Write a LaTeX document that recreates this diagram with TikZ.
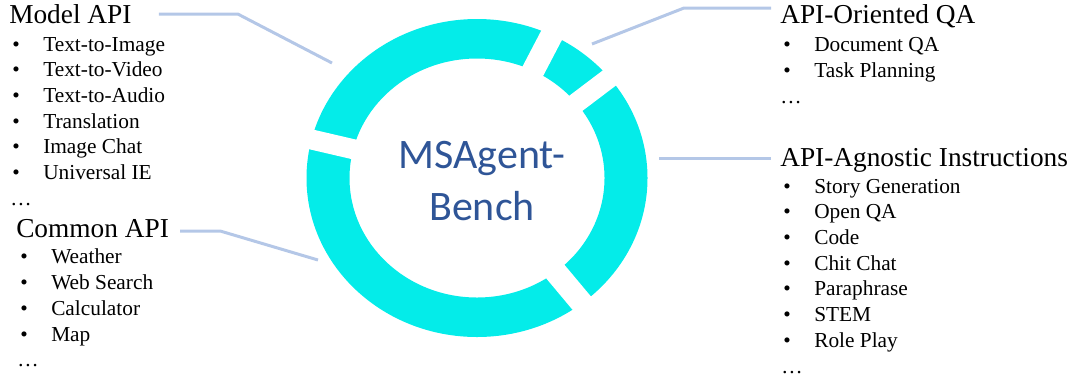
\documentclass[tikz,border=0pt]{standalone}
\usepackage{fontspec}
\setmainfont{Liberation Serif}
\newfontfamily\benchfont{Carlito}
\usetikzlibrary{calc}

\definecolor{ringcyan}{RGB}{4,236,233}
\definecolor{linkblue}{RGB}{180,199,231}
\definecolor{benchblue}{RGB}{47,85,151}

\tikzset{
  head/.style={anchor=base west, inner sep=0pt, font=\rmfamily\fontsize{20.5}{24}\selectfont},
  item/.style={anchor=base west, inner sep=0pt, font=\rmfamily\fontsize{16}{19}\selectfont},
  link/.style={draw=linkblue, line width=2.25pt},
  gap/.style={draw=white, line width=#1},
}
\newcommand{\bul}[1]{\makebox[23.25pt][l]{•}#1}

\begin{document}
\begin{tikzpicture}[x=0.75pt, y=-0.75pt]
  \useasboundingbox (0,0) rectangle (1073,376);
  \def\dy{25.7}
  \coordinate (C) at (477,178);

  % Ring
  \fill[ringcyan, even odd rule] (C) ellipse (170.5 and 159) (C) ellipse (127.5 and 119.5);

  % Gaps between the parts
  \foreach \a/\w in {194/15pt, -64/17pt, -39/15pt, 52/17pt}
    \draw[gap=\w] ($(C)+(\a:105 and 98)$) -- ($(C)+(\a:180 and 168)$);

  % Model API
  \node[head] (model) at (9,23) {Model API};
  \foreach \t [count=\i] in {Text-to-Image, Text-to-Video, Text-to-Audio, Translation, Image Chat, Universal IE}
    \node[item] (model-\i) at (12,{51+\dy*(\i-1)}) {\bul{\t}};
  \node[item] (model-more) at (10,205) {…};

  % Common API
  \node[head] (common) at (16,237) {Common API};
  \foreach \t [count=\i] in {Weather, Web Search, Calculator, Map}
    \node[item] (common-\i) at (20,{263+26.3*(\i-1)}) {\bul{\t}};
  \node[item] (common-more) at (17,366) {…};

  % API-Oriented QA
  \node[head] (oriented) at (780,23) {API-Oriented QA};
  \foreach \t [count=\i] in {Document QA, Task Planning}
    \node[item] (oriented-\i) at (783,{51+26*(\i-1)}) {\bul{\t}};
  \node[item] (oriented-more) at (780,103) {…};

  % API-Agnostic Instructions
  \node[head] (agnostic) at (780,166) {API-Agnostic Instructions};
  \foreach \t [count=\i] in {Story Generation, Open QA, Code, Chit Chat, Paraphrase, STEM, Role Play}
    \node[item] (agnostic-\i) at (783,{193+\dy*(\i-1)}) {\bul{\t}};
  \node[item] (agnostic-more) at (781,373) {…};

  % Connectors to the ring
  \coordinate (model-tip) at (332,63);
  \coordinate (common-tip) at (318,260);
  \coordinate (oriented-tip) at (592,44);
  \coordinate (agnostic-tip) at (659,158);

  \draw[link] ([shift={(27,-9)}]model.base east) -- ++(79,0) -- (model-tip);
  \draw[link] ([shift={(11,-6)}]common.base east) -- ++(40,0) -- (common-tip);
  \draw[link] ([shift={(-9,-15)}]oriented.base west) -- ++(-87,0) -- (oriented-tip);
  \draw[link] ([shift={(-9,-8)}]agnostic.base west) -- (agnostic-tip);

  % Centre label
  \node[font=\benchfont\fontsize{31.5}{39}\selectfont, text=benchblue, align=center] (bench) at (482,181) {MSAgent-\\Bench};
\end{tikzpicture}
\end{document}
